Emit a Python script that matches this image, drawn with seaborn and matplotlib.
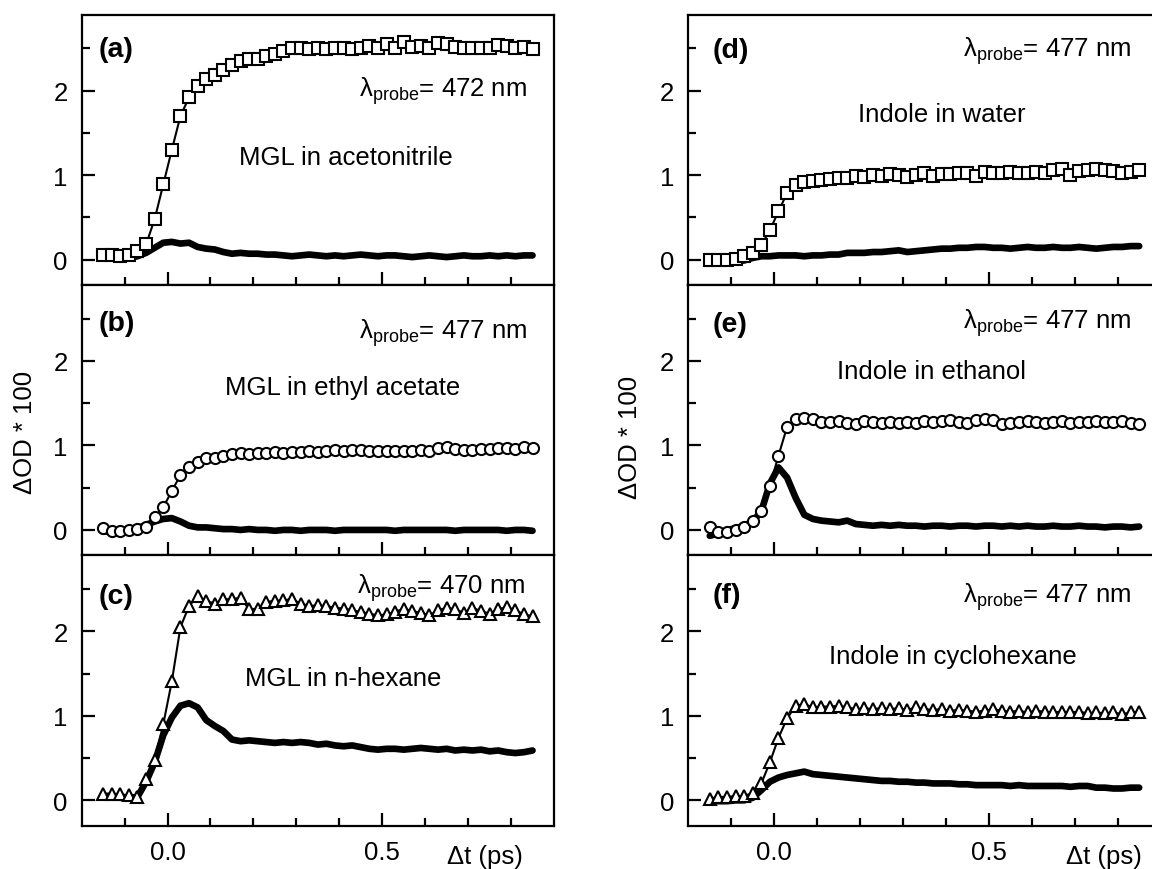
import matplotlib
matplotlib.use("Agg")
import matplotlib.pyplot as plt
from matplotlib.ticker import FixedLocator
import seaborn as sns

# Pump-probe delay grid (ps), shared by every trace
delay = [-0.15, -0.13, -0.11, -0.09, -0.07, -0.05, -0.03, -0.01, 0.01, 0.03,
         0.05, 0.07, 0.09, 0.11, 0.13, 0.15, 0.17, 0.19, 0.21, 0.23,
         0.25, 0.27, 0.29, 0.31, 0.33, 0.35, 0.37, 0.39, 0.41, 0.43,
         0.45, 0.47, 0.49, 0.51, 0.53, 0.55, 0.57, 0.59, 0.61, 0.63,
         0.65, 0.67, 0.69, 0.71, 0.73, 0.75, 0.77, 0.79, 0.81, 0.83, 0.85]

# (a) MGL in acetonitrile, probe 472 nm
mgl_acn_sample = [0.05, 0.06, 0.04, 0.05, 0.10, 0.18, 0.48, 0.89, 1.30, 1.70,
                  1.92, 2.05, 2.14, 2.19, 2.25, 2.30, 2.35, 2.37, 2.38, 2.41,
                  2.44, 2.47, 2.50, 2.51, 2.49, 2.50, 2.49, 2.50, 2.50, 2.49,
                  2.51, 2.53, 2.50, 2.55, 2.51, 2.58, 2.52, 2.53, 2.51, 2.56,
                  2.55, 2.52, 2.51, 2.50, 2.51, 2.50, 2.54, 2.53, 2.51, 2.52, 2.49]
mgl_acn_solvent = [0.03, 0.02, 0.01, 0.02, 0.04, 0.08, 0.14, 0.20, 0.21, 0.19,
                   0.20, 0.15, 0.13, 0.12, 0.09, 0.07, 0.08, 0.07, 0.07, 0.06,
                   0.06, 0.05, 0.04, 0.05, 0.06, 0.05, 0.04, 0.05, 0.04, 0.05,
                   0.06, 0.05, 0.04, 0.05, 0.05, 0.04, 0.03, 0.04, 0.05, 0.04,
                   0.03, 0.04, 0.05, 0.04, 0.04, 0.05, 0.04, 0.05, 0.04, 0.05, 0.05]

# (b) MGL in ethyl acetate, probe 477 nm
mgl_ea_sample = [0.02, -0.01, -0.01, 0.00, 0.01, 0.04, 0.15, 0.27, 0.46, 0.65,
                 0.75, 0.81, 0.85, 0.85, 0.88, 0.90, 0.91, 0.90, 0.91, 0.91,
                 0.92, 0.91, 0.92, 0.92, 0.93, 0.92, 0.94, 0.95, 0.94, 0.95,
                 0.95, 0.93, 0.93, 0.94, 0.93, 0.94, 0.94, 0.95, 0.94, 0.97,
                 0.98, 0.96, 0.95, 0.95, 0.96, 0.96, 0.97, 0.97, 0.96, 0.98, 0.97]
mgl_ea_solvent = [-0.02, -0.02, -0.01, -0.01, 0.02, 0.06, 0.10, 0.13, 0.14, 0.10,
                  0.05, 0.03, 0.03, 0.02, 0.01, 0.01, 0.00, 0.01, 0.00, 0.00,
                  -0.01, 0.00, 0.00, -0.01, 0.00, 0.00, 0.00, -0.01, 0.00, 0.00,
                  0.00, 0.00, 0.00, 0.00, -0.01, 0.00, 0.00, 0.00, 0.00, 0.00,
                  0.00, -0.01, 0.00, 0.00, 0.00, 0.00, 0.00, -0.01, 0.00, 0.00, -0.01]

# (c) MGL in n-hexane, probe 470 nm
mgl_hex_sample = [0.08, 0.08, 0.07, 0.06, 0.04, 0.25, 0.48, 0.90, 1.41, 2.05,
                  2.30, 2.42, 2.36, 2.33, 2.38, 2.38, 2.40, 2.26, 2.27, 2.35,
                  2.36, 2.37, 2.38, 2.33, 2.30, 2.31, 2.30, 2.28, 2.27, 2.25,
                  2.23, 2.21, 2.19, 2.20, 2.23, 2.27, 2.24, 2.22, 2.19, 2.25,
                  2.28, 2.26, 2.22, 2.28, 2.24, 2.21, 2.26, 2.29, 2.25, 2.20, 2.18]
mgl_hex_solvent = [0.05, 0.04, 0.03, 0.03, 0.04, 0.22, 0.45, 0.77, 0.98, 1.12,
                   1.15, 1.10, 0.95, 0.88, 0.82, 0.72, 0.70, 0.71, 0.70, 0.69,
                   0.68, 0.69, 0.68, 0.69, 0.68, 0.66, 0.67, 0.65, 0.64, 0.65,
                   0.63, 0.61, 0.60, 0.61, 0.61, 0.60, 0.61, 0.62, 0.61, 0.60,
                   0.61, 0.59, 0.60, 0.59, 0.60, 0.58, 0.59, 0.57, 0.56, 0.57, 0.59]

# (d) Indole in water, probe 477 nm
ind_water_sample = [0.00, -0.01, -0.01, 0.01, 0.04, 0.08, 0.17, 0.35, 0.57, 0.79,
                    0.88, 0.92, 0.93, 0.94, 0.96, 0.97, 0.97, 0.99, 0.98, 1.00,
                    0.99, 1.01, 1.00, 0.98, 1.00, 1.02, 0.99, 1.01, 1.01, 1.03,
                    1.02, 0.99, 1.04, 1.03, 1.03, 1.04, 1.03, 1.03, 1.04, 1.03,
                    1.06, 1.07, 1.00, 1.05, 1.06, 1.07, 1.06, 1.05, 1.03, 1.04, 1.06]
ind_water_solvent = [-0.03, -0.03, -0.03, -0.02, -0.01, 0.02, 0.04, 0.04, 0.05, 0.05,
                     0.05, 0.04, 0.05, 0.05, 0.06, 0.06, 0.08, 0.08, 0.08, 0.09,
                     0.09, 0.10, 0.11, 0.09, 0.10, 0.11, 0.12, 0.13, 0.13, 0.14,
                     0.14, 0.15, 0.15, 0.14, 0.14, 0.13, 0.14, 0.15, 0.14, 0.14,
                     0.15, 0.14, 0.14, 0.15, 0.14, 0.13, 0.14, 0.15, 0.15, 0.16, 0.16]

# (e) Indole in ethanol, probe 477 nm
ind_etoh_sample = [0.04, -0.03, -0.02, 0.00, 0.04, 0.10, 0.22, 0.52, 0.88, 1.22,
                   1.31, 1.33, 1.31, 1.28, 1.28, 1.29, 1.27, 1.26, 1.29, 1.28,
                   1.27, 1.28, 1.27, 1.28, 1.27, 1.29, 1.28, 1.29, 1.30, 1.28,
                   1.27, 1.30, 1.31, 1.30, 1.25, 1.27, 1.28, 1.29, 1.28, 1.27,
                   1.28, 1.29, 1.27, 1.28, 1.28, 1.29, 1.28, 1.28, 1.29, 1.27, 1.26]
ind_etoh_solvent = [-0.07, -0.04, 0.00, 0.02, 0.05, 0.10, 0.22, 0.55, 0.74, 0.62,
                    0.38, 0.18, 0.13, 0.11, 0.10, 0.09, 0.11, 0.07, 0.06, 0.05,
                    0.06, 0.05, 0.06, 0.05, 0.05, 0.04, 0.05, 0.05, 0.04, 0.05,
                    0.05, 0.04, 0.05, 0.05, 0.04, 0.05, 0.04, 0.05, 0.04, 0.04,
                    0.05, 0.04, 0.04, 0.05, 0.04, 0.04, 0.03, 0.04, 0.04, 0.03, 0.04]

# (f) Indole in cyclohexane, probe 477 nm
ind_chx_sample = [0.02, 0.04, 0.04, 0.05, 0.05, 0.09, 0.20, 0.45, 0.74, 0.97,
                  1.12, 1.14, 1.10, 1.11, 1.11, 1.12, 1.10, 1.08, 1.09, 1.08,
                  1.09, 1.08, 1.09, 1.07, 1.10, 1.08, 1.07, 1.08, 1.06, 1.07,
                  1.06, 1.05, 1.06, 1.08, 1.06, 1.05, 1.06, 1.04, 1.06, 1.05,
                  1.04, 1.05, 1.04, 1.05, 1.03, 1.04, 1.03, 1.04, 1.02, 1.04, 1.05]
ind_chx_solvent = [-0.01, -0.01, -0.01, 0.00, 0.00, 0.03, 0.12, 0.22, 0.27, 0.30,
                   0.32, 0.34, 0.31, 0.30, 0.29, 0.28, 0.27, 0.26, 0.25, 0.24,
                   0.23, 0.23, 0.22, 0.22, 0.21, 0.21, 0.20, 0.20, 0.20, 0.19,
                   0.19, 0.18, 0.18, 0.18, 0.18, 0.17, 0.18, 0.17, 0.17, 0.17,
                   0.17, 0.17, 0.16, 0.17, 0.17, 0.15, 0.15, 0.14, 0.14, 0.15, 0.15]

panel_letters = ["(a)", "(b)", "(c)", "(d)", "(e)", "(f)"]
sample_names = ["MGL in acetonitrile", "MGL in ethyl acetate", "MGL in n-hexane",
                "Indole in water", "Indole in ethanol", "Indole in cyclohexane"]
probe_nm = [472, 477, 470, 477, 477, 477]
sample_traces = [mgl_acn_sample, mgl_ea_sample, mgl_hex_sample,
                 ind_water_sample, ind_etoh_sample, ind_chx_sample]
solvent_traces = [mgl_acn_solvent, mgl_ea_solvent, mgl_hex_solvent,
                  ind_water_solvent, ind_etoh_solvent, ind_chx_solvent]
marker_shapes = ["s", "o", "^", "s", "o", "^"]

sns.set_style("ticks")
plt.rcParams["font.family"] = ["Liberation Sans", "DejaVu Sans"]
plt.rcParams["mathtext.fontset"] = "custom"
plt.rcParams["mathtext.rm"] = "Liberation Sans"
plt.rcParams["mathtext.it"] = "Liberation Sans:italic"
plt.rcParams["mathtext.bf"] = "Liberation Sans:bold"
for key in ["text.color", "axes.labelcolor", "xtick.color", "ytick.color",
            "axes.edgecolor"]:
    plt.rcParams[key] = "black"

FS = 18.5
fig = plt.figure(figsize=(11.52, 8.70), dpi=100)

col_left = [0.0709, 0.5975]
col_width = 0.41
row_bottom = [0.6713, 0.3606, 0.0498]
row_height = 0.3107

# text placement inside each panel (axes fractions)
letter_xy = [(0.035, 0.873), (0.035, 0.859), (0.035, 0.850),
             (0.052, 0.869), (0.052, 0.856), (0.052, 0.853)]
probe_xy = [(0.943, 0.698), (0.943, 0.804), (0.939, 0.861),
            (0.9375, 0.847), (0.9375, 0.841), (0.9375, 0.830)]
name_xy = [(0.560, 0.474), (0.553, 0.624), (0.553, 0.546),
           (0.536, 0.633), (0.514, 0.682), (0.560, 0.626)]

for i in range(6):
    col, row = divmod(i, 3)
    ax = fig.add_axes([col_left[col], row_bottom[row], col_width, row_height])

    sns.lineplot(x=delay, y=solvent_traces[i], ax=ax, color="black",
                 linewidth=4.8, estimator=None, sort=False, zorder=2)
    sns.lineplot(x=delay, y=sample_traces[i], ax=ax, color="black",
                 linewidth=1.5, estimator=None, sort=False, zorder=3,
                 marker=marker_shapes[i],
                 markersize=8 if marker_shapes[i] != "^" else 9,
                 markerfacecolor="white", markeredgecolor="black",
                 markeredgewidth=1.5)

    ax.set_xlim(-0.2, 0.9)
    ax.set_ylim(-0.3, 2.9)
    ax.xaxis.set_major_locator(FixedLocator([0.0, 0.5]))
    ax.xaxis.set_minor_locator(FixedLocator([-0.1, 0.1, 0.2, 0.3, 0.4, 0.6, 0.7, 0.8]))
    ax.yaxis.set_major_locator(FixedLocator([0, 1, 2]))
    ax.yaxis.set_minor_locator(FixedLocator([0.5, 1.5, 2.5]))
    ax.set_yticklabels(["0", "1", "2"])
    ax.set_xticklabels(["0.0", "0.5"])

    ax.tick_params(which="both", direction="in", width=1.6, color="black",
                   labelcolor="black", labelsize=FS, top=False, right=False)
    ax.tick_params(which="major", length=9.5)
    ax.tick_params(which="minor", length=5.5)
    ax.tick_params(axis="y", which="both", pad=10)
    ax.tick_params(axis="x", which="both", pad=10)
    for sp in ax.spines.values():
        sp.set_linewidth(1.6)
        sp.set_color("black")
        sp.set_visible(True)

    if row < 2:
        ax.tick_params(labelbottom=False)

    ax.text(*letter_xy[i], panel_letters[i], transform=ax.transAxes,
            fontsize=20.5, fontweight="bold", ha="left", va="center")
    ax.text(*probe_xy[i], "\u03bb$_{\\rm probe}$= %d nm" % probe_nm[i],
            transform=ax.transAxes, fontsize=FS, ha="right", va="baseline")
    ax.text(*name_xy[i], sample_names[i], transform=ax.transAxes,
            fontsize=FS, ha="center", va="center")

    if row == 1:
        lx = -0.12 if col == 0 else -0.123
        ly = 0.458 if col == 0 else 0.44
        ax.text(lx, ly, "\u0394OD * 100", transform=ax.transAxes, rotation=90,
                fontsize=FS, ha="center", va="center")
    if row == 2:
        rx = 0.934 if col == 0 else 0.96
        ax.text(rx, -0.112, "\u0394t (ps)", transform=ax.transAxes,
                fontsize=FS, ha="right", va="center")

fig.savefig("out.png", dpi=100)
